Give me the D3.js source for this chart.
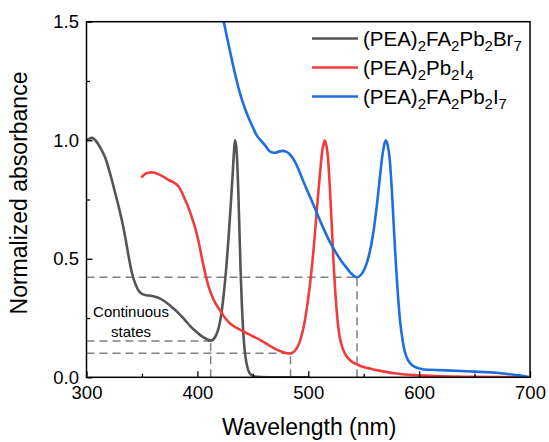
<!DOCTYPE html>
<html>
<head>
<meta charset="utf-8">
<script src="https://cdn.jsdelivr.net/npm/d3@7"></script>
<style>
  html, body { margin: 0; padding: 0; background: #fff; }
  svg { display: block; }
  text { font-family: Arial, "Liberation Sans", sans-serif; fill: #000; }
</style>
</head>
<body>
<svg id="chart" width="549" height="442"></svg>
<script>
// ---------- data ----------
const brWave = [300,302,305,308,311,314,317,320,323,326,329,332,335,338,341,344,347,350,354,358,362,366,370,374,378,382,386,390,394,398,402,406,409,412,414,416,418,420,422,424,426,428,430,432,433,434,435,436,437,438,439,440,441,442,443,445,447,450,455,465,480,500];
const brAbs  = [1.0,1.005,1.01,1.0,0.98,0.955,0.925,0.88,0.83,0.775,0.72,0.66,0.59,0.51,0.44,0.395,0.365,0.352,0.346,0.344,0.34,0.333,0.322,0.308,0.292,0.275,0.256,0.235,0.214,0.196,0.18,0.167,0.16,0.155,0.158,0.17,0.19,0.225,0.28,0.36,0.46,0.58,0.72,0.87,0.95,1.0,0.975,0.9,0.77,0.61,0.45,0.32,0.22,0.15,0.1,0.045,0.018,0.006,0.002,0.0,0.0,0.0];

const i4Wave = [350,353,356,360,364,368,372,376,380,383,386,389,392,395,398,401,404,407,410,413,416,420,425,430,435,440,445,450,455,460,465,470,475,480,484,487,490,493,496,499,502,505,508,511,513,515,517,519,521,523,525,527,529,532,536,540,545,550,560,570,580,590,600,620,650,700];
const i4Abs  = [0.846,0.858,0.863,0.864,0.858,0.85,0.838,0.828,0.818,0.805,0.78,0.748,0.715,0.675,0.63,0.575,0.505,0.44,0.385,0.345,0.315,0.285,0.25,0.225,0.21,0.197,0.185,0.173,0.162,0.148,0.134,0.12,0.11,0.102,0.1,0.108,0.125,0.16,0.215,0.3,0.41,0.55,0.72,0.88,0.965,1.0,0.96,0.84,0.66,0.47,0.32,0.215,0.155,0.11,0.08,0.064,0.052,0.043,0.032,0.023,0.016,0.011,0.008,0.004,0.002,0.0];

const i7Wave = [423,426,429,432,435,438,441,444,447,450,453,456,459,462,465,468,471,474,477,480,483,486,489,492,495,498,502,506,510,514,518,522,526,530,534,538,541,544,547,550,553,556,559,562,565,567,569,570,571,573,575,577,579,581,583,585,587,590,594,598,603,615,630,650,670,680,690,700];
const i7Abs  = [1.52,1.45,1.385,1.32,1.26,1.205,1.16,1.12,1.085,1.055,1.025,1.005,0.99,0.972,0.955,0.948,0.948,0.953,0.955,0.952,0.942,0.925,0.9,0.868,0.833,0.8,0.757,0.713,0.668,0.625,0.585,0.55,0.518,0.49,0.465,0.442,0.428,0.422,0.43,0.45,0.485,0.54,0.62,0.73,0.86,0.94,0.99,1.0,0.99,0.94,0.82,0.65,0.48,0.34,0.23,0.16,0.11,0.072,0.05,0.04,0.034,0.031,0.028,0.024,0.019,0.014,0.008,0.0];

const seriesNames  = ["Br7", "I4", "I7"];
const seriesColors = ["#555555", "#f23c3c", "#1f6ee0"];

// dashed guide lines: [wavelength, absorbance]
const guideWave = [412, 484, 544];
const guideAbs  = [0.153, 0.101, 0.422];

const xTicks = [300, 400, 500, 600, 700];
const xMinor = [350, 450, 550, 650];
const yTicks = [0.0, 0.5, 1.0, 1.5];
const yMinor = [0.25, 0.75, 1.25];

// ---------- layout ----------
const svg = d3.select("#chart");
const mLeft = 86.5, mRight = 530, mTop = 21.7, mBottom = 377.3;
const font = 'Arial, "Liberation Sans", sans-serif';

const x = d3.scaleLinear().domain([300, 700]).range([mLeft, mRight]);
const y = d3.scaleLinear().domain([0, 1.5]).range([mBottom, mTop]);

svg.append("defs").append("clipPath").attr("id", "clip")
  .append("rect").attr("x", mLeft).attr("y", mTop).attr("width", mRight - mLeft).attr("height", mBottom - mTop);

// guides
const g = svg.append("g");
guideWave.forEach((w, i) => {
  g.append("line").attr("x1", x(300)).attr("x2", x(w)).attr("y1", y(guideAbs[i])).attr("y2", y(guideAbs[i]))
    .attr("stroke", "#808080").attr("stroke-width", 1.5).attr("stroke-dasharray", "8,5");
  g.append("line").attr("x1", x(w)).attr("x2", x(w)).attr("y1", y(0)).attr("y2", y(guideAbs[i]))
    .attr("stroke", "#808080").attr("stroke-width", 1.5).attr("stroke-dasharray", "8,5");
});

// curves
const line = d3.line().x(d => x(d[0])).y(d => y(d[1])).curve(d3.curveCatmullRom.alpha(0.5));
const data = [
  d3.zip(brWave, brAbs),
  d3.zip(i4Wave, i4Abs),
  d3.zip(i7Wave, i7Abs)
];
const cg = svg.append("g").attr("clip-path", "url(#clip)");
data.forEach((d, i) => {
  cg.append("path").datum(d).attr("d", line).attr("fill", "none")
    .attr("stroke", seriesColors[i]).attr("stroke-width", 2.6)
    .attr("stroke-linejoin", "round").attr("stroke-linecap", "round");
});

// axes
const xAxis = svg.append("g").attr("transform", `translate(0,${mBottom})`)
  .call(d3.axisBottom(x).tickValues(xTicks).tickFormat(d3.format("d")).tickSizeInner(-6).tickSizeOuter(0).tickPadding(8.5));
const xAxisMinor = svg.append("g").attr("transform", `translate(0,${mBottom})`)
  .call(d3.axisBottom(x).tickValues(xMinor).tickFormat("").tickSizeInner(-3.5).tickSizeOuter(0));
const yAxis = svg.append("g").attr("transform", `translate(${mLeft},0)`)
  .call(d3.axisLeft(y).tickValues(yTicks).tickFormat(d3.format(".1f")).tickSizeInner(-6).tickSizeOuter(0).tickPadding(7.5));
const yAxisMinor = svg.append("g").attr("transform", `translate(${mLeft},0)`)
  .call(d3.axisLeft(y).tickValues(yMinor).tickFormat("").tickSizeInner(-3.5).tickSizeOuter(0));
[xAxis, xAxisMinor, yAxis, yAxisMinor].forEach(a => {
  a.select(".domain").remove();
  a.selectAll("line").attr("stroke", "#000").attr("stroke-width", 1.3);
  a.selectAll("text").attr("font-family", font).attr("font-size", 18.5).attr("fill", "#000");
});

// frame
svg.append("rect").attr("x", mLeft).attr("y", mTop).attr("width", mRight - mLeft).attr("height", mBottom - mTop)
  .attr("fill", "none").attr("stroke", "#000").attr("stroke-width", 1.5);

// axis titles
svg.append("text").attr("x", (mLeft + mRight) / 2 + 1).attr("y", 435)
  .attr("text-anchor", "middle").attr("font-size", 23).attr("font-family", font).text("Wavelength (nm)");
svg.append("text").attr("transform", "translate(27,193) rotate(-90)")
  .attr("text-anchor", "middle").attr("font-size", 23).attr("font-family", font).text("Normalized absorbance");

// annotation
svg.append("text").attr("x", 131).attr("y", 316.5).attr("text-anchor", "middle")
  .attr("font-size", 15).attr("font-family", font).text("Continuous");
svg.append("text").attr("x", 131).attr("y", 336.5).attr("text-anchor", "middle")
  .attr("font-size", 15).attr("font-family", font).text("states");

// legend
const legendParts = [
  [["(PEA)", 0], ["2", 1], ["FA", 0], ["2", 1], ["Pb", 0], ["2", 1], ["Br", 0], ["7", 1]],
  [["(PEA)", 0], ["2", 1], ["Pb", 0], ["2", 1], ["I", 0], ["4", 1]],
  [["(PEA)", 0], ["2", 1], ["FA", 0], ["2", 1], ["Pb", 0], ["2", 1], ["I", 0], ["7", 1]]
];
const legendY = [38.5, 67.5, 96.5];
legendParts.forEach((parts, i) => {
  svg.append("line").attr("x1", 312).attr("x2", 358).attr("y1", legendY[i]).attr("y2", legendY[i])
    .attr("stroke", seriesColors[i]).attr("stroke-width", 2.6);
  const t = svg.append("text").attr("x", 363).attr("y", legendY[i] + 7.5)
    .attr("font-size", 20.5).attr("font-family", font);
  let prevSub = 0;
  parts.forEach(([s, sub]) => {
    const dy = (sub - prevSub) * 5;
    t.append("tspan").attr("dy", dy).attr("font-size", sub ? 15 : 20.5).text(s);
    prevSub = sub;
  });
});
</script>
</body>
</html>
